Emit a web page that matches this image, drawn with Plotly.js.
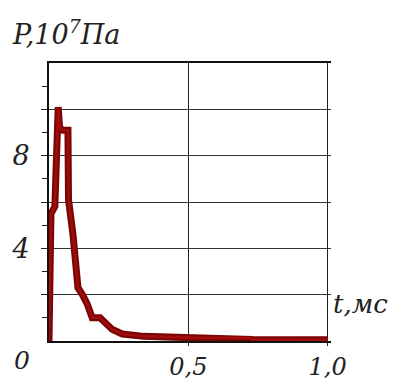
<!DOCTYPE html>
<html><head><meta charset="utf-8">
<script src="https://cdn.plot.ly/plotly-3.0.1.min.js"></script>
<style>html,body{margin:0;padding:0;background:#fff;}#c{width:395px;height:381px;}</style>
</head><body><div id="c"></div>
<script>
const tValues = [0, 0.004, 0.007, 0.021, 0.025, 0.029, 0.033, 0.038, 0.05, 0.068, 0.07, 0.086, 0.104, 0.12, 0.137, 0.155, 0.183, 0.227, 0.263, 0.34, 0.45, 0.55, 0.72, 0.73, 1.0];
const pValues = [0, 2.8, 5.5, 5.8, 7.0, 8.6, 10.1, 9.2, 9.1, 9.1, 6.1, 4.6, 2.3, 2.0, 1.6, 1.0, 1.0, 0.5, 0.3, 0.2, 0.16, 0.14, 0.13, 0.06, 0.05];
const yTickVals = [2, 4, 6, 8, 10];
const yTickText = ['', '4', '', '8', ''];
const yMinorVals = [1, 3, 5, 7, 9, 11];
const xTickVals = [0.5, 1.0];
const xTickText = ['0,5', '1,0'];
const yTitle = 'P,10<sup>7</sup>Па';
const xTitle = 't,мс';
const cornerLabel = '0';

const serif = 'DejaVu Serif';
const traces = [
  {x: tValues, y: pValues, mode: 'lines', line: {color: '#7a0505', width: 7}, hoverinfo: 'none'},
  {x: tValues, y: pValues, mode: 'lines', line: {color: '#a30c0c', width: 2.5}, hoverinfo: 'none'}
];
const W = 395, L = 49, R = 64;
const pw = W - L - R;
const layout = {
  width: 395, height: 381,
  margin: {l: L, r: R, t: 63, b: 40, pad: 0},
  paper_bgcolor: '#fff', plot_bgcolor: '#fff',
  showlegend: false,
  font: {family: serif, color: '#222'},
  xaxis: {
    range: [0, 1.012], tickvals: xTickVals, ticktext: xTickText,
    showgrid: true, gridcolor: '#222', gridwidth: 1,
    showline: true, linecolor: '#111', linewidth: 2, mirror: true,
    ticks: 'outside', ticklen: 3, tickcolor: '#222',
    ticklabelstandoff: 0,
    tickfont: {family: serif, size: 24, style: 'italic', color: '#222'},
    zeroline: false, fixedrange: true
  },
  yaxis: {
    range: [0, 12], tickvals: yTickVals, ticktext: yTickText,
    showgrid: true, gridcolor: '#333', gridwidth: 1,
    showline: true, linecolor: '#111', linewidth: 2,
    ticks: 'outside', ticklen: 6, tickcolor: '#222',
    ticklabelstandoff: 6,
    tickfont: {family: serif, size: 27, style: 'italic', color: '#222'},
    minor: {tickvals: yMinorVals, ticks: 'outside', ticklen: 5, tickcolor: '#222', showgrid: false},
    zeroline: false, fixedrange: true
  },
  annotations: [
    {text: yTitle, xref: 'paper', yref: 'paper', x: (10 - L) / pw, y: 1, yshift: 11, xanchor: 'left', yanchor: 'bottom', showarrow: false,
     font: {family: serif, size: 27, style: 'italic', color: '#222'}},
    {text: xTitle, xref: 'paper', yref: 'paper', x: (331 - L) / pw, y: (341 - 304) / 278, xanchor: 'left', yanchor: 'middle', showarrow: false,
     font: {family: serif, size: 26, style: 'italic', color: '#222'}},
    {text: cornerLabel, xref: 'paper', yref: 'paper', x: (22 - L) / pw, y: 0, yshift: -3, xanchor: 'center', yanchor: 'top', showarrow: false,
     font: {family: serif, size: 25, style: 'italic', color: '#222'}}
  ]
};
Plotly.newPlot('c', traces, layout, {displayModeBar: false, staticPlot: true});
</script></body></html>
